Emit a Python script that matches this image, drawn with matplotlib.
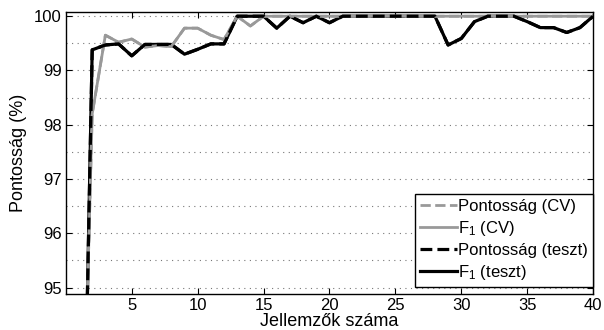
import numpy as np
import matplotlib
matplotlib.use("Agg")
import matplotlib.pyplot as plt
from matplotlib.ticker import MultipleLocator

plt.rcParams['font.family'] = ['Liberation Sans', 'DejaVu Sans']
plt.rcParams['mathtext.fontset'] = 'custom'
plt.rcParams['mathtext.rm'] = 'Liberation Sans'
plt.rcParams['mathtext.it'] = 'Liberation Sans'

# number of features
features = list(range(1, 41))

f1_cv = [89.0, 98.2, 99.65, 99.52, 99.58, 99.43, 99.46, 99.44, 99.78, 99.78,
         99.65, 99.57, 100.0, 99.82, 100.0, 100.0, 100.0, 100.0, 100.0, 100.0,
         100.0, 100.0, 100.0, 100.0, 100.0, 100.0, 100.0, 100.0, 100.0, 100.0,
         100.0, 100.0, 100.0, 100.0, 100.0, 100.0, 100.0, 100.0, 100.0, 100.0]
acc_cv = f1_cv

f1_test = [87.0, 99.38, 99.47, 99.49, 99.27, 99.48, 99.48, 99.48, 99.3, 99.39,
           99.49, 99.49, 100.0, 100.0, 100.0, 99.78, 100.0, 99.88, 100.0, 99.88,
           100.0, 100.0, 100.0, 100.0, 100.0, 100.0, 100.0, 100.0, 99.47, 99.59,
           99.9, 100.0, 100.0, 100.0, 99.9, 99.79, 99.79, 99.7, 99.79, 100.0]
acc_test = f1_test

fig = plt.figure(figsize=(6.04, 3.30), dpi=100)
ax = fig.add_axes([0.109, 0.109, 0.873, 0.855])

gray = '#999999'
ax.plot(features, acc_cv, color=gray, ls='--', lw=2.0, zorder=2, label='Pontosság (CV)')
ax.plot(features, f1_cv, color=gray, ls='-', lw=2.0, zorder=3, label='F$_1$ (CV)')
ax.plot(features, acc_test, color='black', ls='--', lw=2.3, zorder=4, label='Pontosság (teszt)')
ax.plot(features, f1_test, color='black', ls='-', lw=2.3, zorder=1.5, label='F$_1$ (teszt)')

ax.set_xlim(0, 40)
ax.set_ylim(94.88, 100.08)
ax.set_xticks(range(5, 41, 5))
ax.set_yticks(range(95, 101))
ax.yaxis.set_minor_locator(MultipleLocator(0.5))
ax.tick_params(which='major', direction='in', top=True, right=True, length=4,
               width=0.8, labelsize=12, pad=3)
ax.tick_params(which='minor', length=0)
ax.grid(axis='y', which='both', ls=(0, (1, 4)), color='#777777', lw=0.8)
ax.set_axisbelow(True)
for s in ax.spines.values():
    s.set_linewidth(1.0)

ax.set_xlabel('Jellemzők száma', fontsize=13, labelpad=0)
ax.set_ylabel('Pontosság (%)', fontsize=13, labelpad=5)

leg = ax.legend(loc='lower right', bbox_to_anchor=(1.0, 0.025), borderaxespad=0,
                fontsize=12, fancybox=False, framealpha=1, edgecolor='black',
                handlelength=2.2, handletextpad=0.1, labelspacing=0.3,
                borderpad=0.3)
leg.get_frame().set_linewidth(1.0)

fig.savefig('out.png', dpi=100)
